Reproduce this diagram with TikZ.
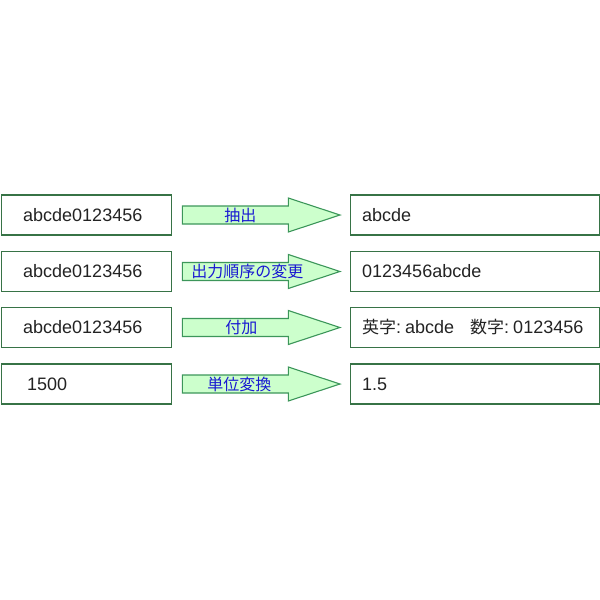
\documentclass[tikz,border=0pt]{standalone}
\usepackage{fontspec}
\setmainfont{Liberation Sans}
\newfontfamily\cjk{Noto Sans CJK JP}
\usetikzlibrary{calc}
\definecolor{boxgreen}{RGB}{55,115,70}
\definecolor{arrowfill}{RGB}{204,255,204}
\definecolor{arrowline}{RGB}{60,150,90}
\definecolor{labelblue}{RGB}{25,25,210}
\definecolor{textgray}{RGB}{35,35,35}
\begin{document}
\begin{tikzpicture}[x=1pt,y=-1pt,
  databox/.style={draw=boxgreen, line width=1.3pt, rectangle, minimum height=40pt, inner sep=0pt},
  inbox/.style={databox, minimum width=170pt, anchor=west},
  outbox/.style={databox, minimum width=248.5pt, anchor=west},
  datatext/.style={anchor=west, inner sep=0pt, text=textgray, font=\fontsize{18}{21}\selectfont},
  arrowshape/.style={draw=arrowline, fill=arrowfill, line width=1.1pt, line join=miter},
  oplabel/.style={inner sep=0pt, text=labelblue, font=\cjk\fontsize{16}{18}\selectfont},
]
\useasboundingbox (0,0) rectangle (600,600);

% rows
\node[inbox]  (a1) at (1,215) {};
\node[outbox] (b1) at (350,215) {};
\node[inbox]  (a2) at (1,271.5) {};
\node[outbox] (b2) at (350,271.5) {};
\node[inbox]  (a3) at (1,327.5) {};
\node[outbox] (b3) at (350,327.5) {};
\node[inbox]  (a4) at (1,384) {};
\node[outbox] (b4) at (350,384) {};

% texts
\node[datatext] (ta1) at ([xshift=22pt]a1.west) {abcde0123456};
\node[datatext] (tb1) at ([xshift=12pt]b1.west) {abcde};
\node[datatext] (ta2) at ([xshift=22pt]a2.west) {abcde0123456};
\node[datatext] (tb2) at ([xshift=12pt]b2.west) {0123456abcde};
\node[datatext] (ta3) at ([xshift=22pt]a3.west) {abcde0123456};
\node[datatext] (tb3) at ([xshift=12pt]b3.west) {{\cjk\fontsize{17}{20}\selectfont 英字}:\hspace{4pt}abcde\hspace{16pt}{\cjk\fontsize{17}{20}\selectfont 数字}:\hspace{4pt}0123456};
\node[datatext] (ta4) at ([xshift=26pt]a4.west) {1500};
\node[datatext] (tb4) at ([xshift=12pt]b4.west) {1.5};

% arrows
\foreach \r in {1,2,3,4}{
  \draw[arrowshape] ([shift={(10,-9)}]a\r.east) -- ++(106,0) -- ++(0,-8)
    -- ([xshift=-10pt]b\r.west) -- ([shift={(116,17)}]a\r.east) -- ++(0,-8) -- ++(-106,0) -- cycle;
}

\node[oplabel] (l1) at ([xshift=68pt]a1.east) {抽出};
\node[oplabel] (l2) at ([xshift=75pt]a2.east) {出力順序の変更};
\node[oplabel] (l3) at ([xshift=69pt]a3.east) {付加};
\node[oplabel] (l4) at ([xshift=67pt]a4.east) {単位変換};
\end{tikzpicture}
\end{document}
